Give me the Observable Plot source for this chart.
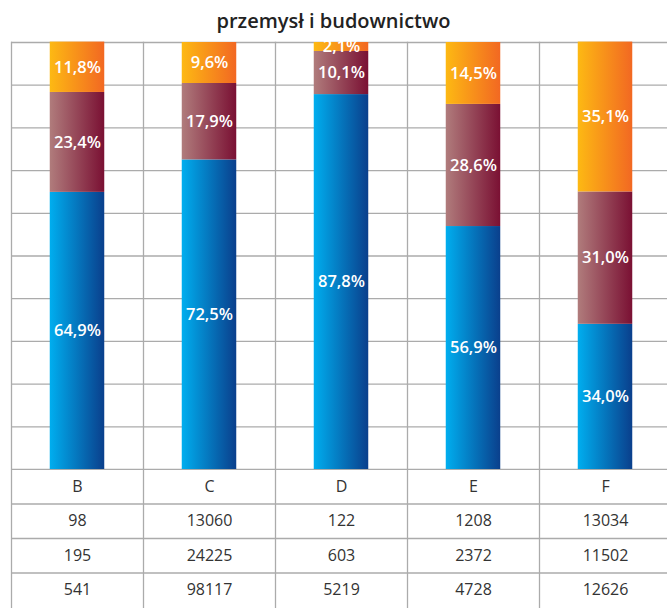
<!DOCTYPE html>
<html>
<head>
<meta charset="utf-8">
<script src="https://cdn.jsdelivr.net/npm/d3@7"></script>
<script src="https://cdn.jsdelivr.net/npm/@observablehq/plot@0.6"></script>
<style>
  html, body { margin: 0; padding: 0; background: #fff; }
  body { width: 667px; height: 608px; overflow: hidden; position: relative; }
  #title { position: absolute; left: 0; top: 0; width: 667px; box-sizing: border-box; height: 36px; padding-top: 6px;
           line-height: 30px; text-align: center; z-index: 1;
           font-family: "Open Sans", sans-serif; font-weight: 600; font-size: 20px; color: #222; }
  svg { display: block; }
</style>
</head>
<body>
<div id="title">przemysł i budownictwo</div>
<div id="chart"></div>
<div id="table"></div>
<script>
// ---- data ----
const categories = ["B", "C", "D", "E", "F"];
const seriesNames = ["s1", "s2", "s3"]; // bottom (blue), middle (maroon), top (orange)
const blueShare = [64.9, 72.5, 87.8, 56.9, 34.0];
const maroonShare = [23.4, 17.9, 10.1, 28.6, 31.0];
const orangeShare = [11.8, 9.6, 2.1, 14.5, 35.1];
const tableRow1 = [98, 13060, 122, 1208, 13034];
const tableRow2 = [195, 24225, 603, 2372, 11502];
const tableRow3 = [541, 98117, 5219, 4728, 12626];
const yTicks = [0, 10, 20, 30, 40, 50, 60, 70, 80, 90, 100];

const shares = [blueShare, maroonShare, orangeShare];
const data = [];
categories.forEach((c, i) => {
  seriesNames.forEach((s, k) => data.push({cat: c, series: s, value: shares[k][i]}));
});
const fmt = v => v.toFixed(1).replace(".", ",") + "%";

const gridColor = "#ababab";
const fxScale = {domain: categories, range: [9.5, 672], padding: 0, axis: null};

const chart = Plot.plot({
  width: 667,
  height: 470,
  marginTop: 42,
  marginBottom: 1,
  marginLeft: 0,
  marginRight: 0,
  style: {fontFamily: "'Open Sans', sans-serif", background: "transparent"},
  fx: fxScale,
  y: {domain: [0, 100], axis: null},
  color: {type: "ordinal", domain: seriesNames, range: ["url(#gBlue)", "url(#gMaroon)", "url(#gOrange)"]},
  marks: [
    Plot.ruleY(yTicks, {stroke: gridColor, strokeWidth: 1.3}),
    Plot.frame({anchor: "left", stroke: gridColor, strokeWidth: 1.3}),
    Plot.barY(data, {fx: "cat", y: "value", fill: "series", insetLeft: 38.75, insetRight: 38.75}),
    Plot.text(data, Plot.stackY({fx: "cat", y: "value", z: "series", text: d => fmt(d.value),
      fill: "white", fontSize: 16.5, fontWeight: 600}))
  ]
});

const defs = d3.select(chart).insert("defs", ":first-child");
function grad(id, c0, c1) {
  const g = defs.append("linearGradient").attr("id", id).attr("x1", "0").attr("x2", "1").attr("y1", "0").attr("y2", "0");
  g.append("stop").attr("offset", "0").attr("stop-color", c0);
  g.append("stop").attr("offset", "1").attr("stop-color", c1);
}
grad("gBlue", "#00aeef", "#0a3f8c");
grad("gMaroon", "#b07c7c", "#7a1033");
grad("gOrange", "#fdb913", "#f26822");
document.getElementById("chart").appendChild(chart);

// ---- table below the chart ----
const rows = [categories, tableRow1, tableRow2, tableRow3];
const tableData = [];
rows.forEach((r, ri) => r.forEach((v, i) => tableData.push({cat: categories[i], row: ri + 0.5, text: String(v)})));

const table = Plot.plot({
  width: 667,
  height: 138,
  marginTop: 0, marginBottom: 0, marginLeft: 0, marginRight: 0,
  style: {fontFamily: "'Open Sans', sans-serif", background: "transparent"},
  fx: fxScale,
  y: {domain: [0, 4], range: [-1, 137], axis: null},
  marks: [
    Plot.ruleY([1, 2, 3], {stroke: gridColor, strokeWidth: 1.3}),
    Plot.frame({anchor: "left", stroke: gridColor, strokeWidth: 1.3}),
    Plot.text(tableData, {fx: "cat", y: "row", text: "text", fill: "#333", fontSize: 16})
  ]
});
document.getElementById("table").appendChild(table);
</script>
</body>
</html>
